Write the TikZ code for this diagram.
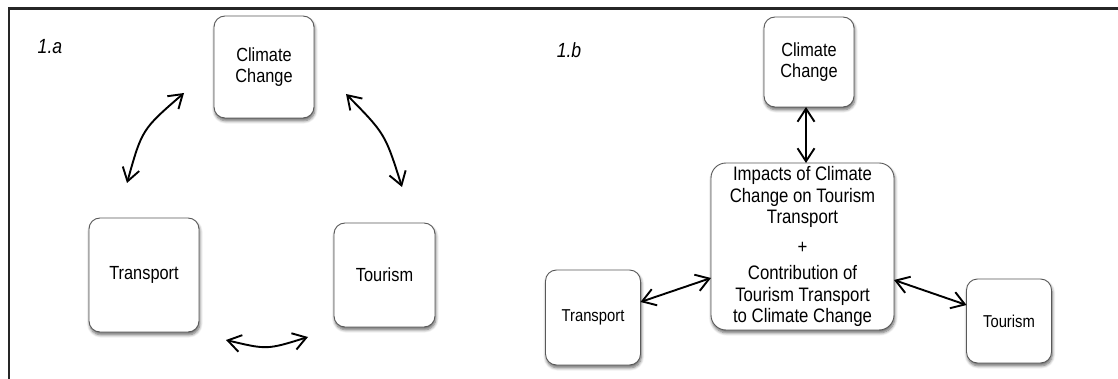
\documentclass[tikz,border=0pt]{standalone}
\usepackage{fontspec}
\setmainfont{Liberation Sans}
\newfontfamily\cond{Liberation Sans}[FakeStretch=0.86]
\usetikzlibrary{arrows.meta,shadows.blur}
\begin{document}
\begin{tikzpicture}[x=1pt,y=1pt,
  box/.style={draw=black!65, line width=0.9pt, fill=white, rounded corners=11pt,
    align=center, inner sep=0pt,
    blur shadow={shadow xshift=0.8pt, shadow yshift=-2.8pt, shadow blur steps=6,
      shadow opacity=60, shadow blur radius=3pt}},
  biarrow/.style={line width=1.9pt, {Straight Barb[length=13pt,width=17pt]}-{Straight Barb[length=13pt,width=17pt]}},
  big/.style={font=\cond\fontsize{19}{21}\selectfont},
  small/.style={font=\cond\fontsize{17.2}{19}\selectfont},
  panel/.style={font=\cond\itshape\fontsize{20.5}{22}\selectfont, inner sep=0pt}
]
\useasboundingbox (0,0) rectangle (1118,-379);
\draw[line width=2.4pt, black!85] (9,-379) -- (9,-8.5) -- (1118,-8.5);

% panel 1.a
\node[panel] (la) at (50,-47) {1.a};
\node[box,big,minimum width=100pt,minimum height=102pt] (acc) at (264,-67) {Climate\\Change};
\node[box,big,minimum width=110pt,minimum height=114pt] (atr) at (144,-275) {Transport};
\node[box,big,minimum width=101pt,minimum height=104pt] (ato) at (384.5,-275) {Tourism};

\coordinate (a1) at (184,-93);
\coordinate (a2) at (127,-183);
\coordinate (a3) at (346,-94);
\coordinate (a4) at (402,-187);
\coordinate (a5) at (226,-340);
\coordinate (a6) at (308,-337);
\draw[biarrow] (a1) .. controls (142,-129.4) .. (a2);
\draw[biarrow] (a3) .. controls (385.1,-133.8) .. (a4);
\draw[biarrow] (a5) .. controls (267,-349.8) .. (a6);

% panel 1.b
\node[panel] (lb) at (569,-50) {1.b};
\node[box,big,minimum width=90pt,minimum height=90pt] (bcc) at (809,-62) {Climate\\Change};
\node[box,rounded corners=15pt,font=\cond\fontsize{19.5}{21.5}\selectfont,minimum width=183pt,minimum height=167pt] (bc) at (802.5,-246.5)
  {Impacts of Climate\\Change on Tourism\\Transport\\[8pt]+\\[5pt]Contribution of\\Tourism Transport\\to Climate Change};
\node[box,small,minimum width=95pt,minimum height=95pt] (btr) at (593,-317.5) {Transport};
\node[box,small,minimum width=85pt,minimum height=84pt] (bto) at (1009,-321) {Tourism};

\coordinate (b1) at (806,-107);
\coordinate (b2) at (806,-163);
\coordinate (b3) at (640.5,-302);
\coordinate (b4) at (711,-278);
\coordinate (b5) at (894,-280);
\coordinate (b6) at (966.5,-305);
\draw[biarrow] (b1) -- (b2);
\draw[biarrow] (b3) -- (b4);
\draw[biarrow] (b5) -- (b6);
\end{tikzpicture}
\end{document}
